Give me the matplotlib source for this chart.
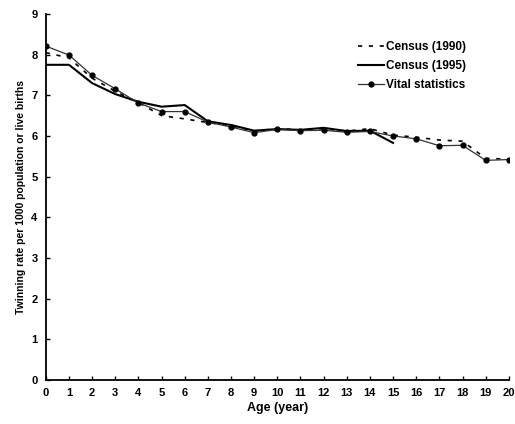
import numpy as np
import matplotlib.pyplot as plt

plt.rcParams['font.family'] = ['Liberation Sans', 'DejaVu Sans']

# Ages 0-20
age = list(range(0, 21))

# Census (1990), dashed
census_1990 = [8.05, 7.92, 7.42, 7.10, 6.82, 6.50, 6.42, 6.33, 6.25, 6.12, 6.18, 6.15,
               6.18, 6.12, 6.18, 6.02, 5.97, 5.90, 5.87, 5.45, 5.43]

# Census (1995), solid, ends at age 15
age_1995 = list(range(0, 16))
census_1995 = [7.75, 7.75, 7.30, 7.03, 6.84, 6.72, 6.76, 6.36, 6.27, 6.13, 6.17, 6.15,
               6.20, 6.12, 6.13, 5.83]

# Vital statistics, line with dots
vital = [8.21, 7.99, 7.49, 7.16, 6.81, 6.60, 6.60, 6.34, 6.22, 6.08, 6.16, 6.13,
         6.14, 6.09, 6.11, 6.00, 5.93, 5.76, 5.77, 5.40, 5.42]

fig = plt.figure(figsize=(5.15, 4.24), dpi=100)
ax = fig.add_axes([0.089, 0.104, 0.899, 0.863])

ax.plot(age, census_1990, color='black', linestyle=(0, (2.5, 4)), linewidth=1.2,
        label='Census (1990)')
ax.plot(age_1995, census_1995, color='black', linewidth=1.5, label='Census (1995)')
ax.plot(age, vital, color='#333333', linewidth=0.9, marker='o', markersize=3.5,
        markerfacecolor='black', markeredgecolor='black', label='Vital statistics')

ax.set_xlim(0, 20)
ax.set_ylim(0, 9)
ax.set_xticks(range(0, 21))
ax.set_yticks(range(0, 10))
ax.spines['top'].set_visible(False)
ax.spines['right'].set_visible(False)
ax.spines['left'].set_linewidth(1.3)
ax.spines['bottom'].set_linewidth(1.3)
ax.tick_params(direction='in', length=3, width=1, labelsize=8, pad=6)
for lab in ax.get_xticklabels() + ax.get_yticklabels():
    lab.set_fontweight('bold')

ax.set_xlabel('Age (year)', fontsize=9, fontweight='bold', labelpad=3)
ax.set_ylabel('Twinning rate per 1000 population or live births', fontsize=7.5,
              fontweight='bold', labelpad=4)

ax.legend(loc='upper right', bbox_to_anchor=(0.93, 0.955), frameon=False,
          handlelength=2.2, handletextpad=0.15, labelspacing=0.6,
          prop={'weight': 'bold', 'size': 8.5})

fig.savefig('out.png', dpi=100)
